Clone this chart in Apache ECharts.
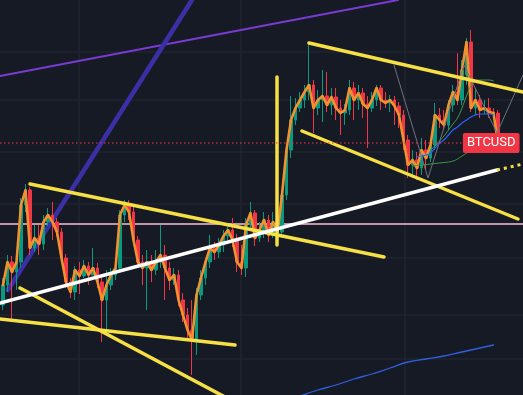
<!DOCTYPE html>
<html><head><meta charset="utf-8">
<script src="https://cdn.jsdelivr.net/npm/echarts@6/dist/echarts.min.js"></script>
<style>html,body{margin:0;padding:0;background:#161a25;}#c{width:523px;height:395px;}</style>
</head><body><div id="c"></div>
<script>
// ---- candle data (bar index = position in arrays) ----
const open = [20950,21150,21380,21280,21380,21950,22100,21520,21620,21560,
21780,21850,21780,21680,21420,21180,21080,21300,21240,21340,
21250,21320,21180,21000,21150,21250,21320,21850,21950,21880,
21600,21380,21320,21380,21300,21380,21450,21320,21200,21250,
21000,20850,20700,20600,21050,21220,21380,21520,21480,21550,
21640,21700,21600,21380,21320,21750,21870,21620,21700,21800,
21650,21780,21680,22050,22500,22800,22920,23000,23080,23150,
22920,23000,23040,22950,23030,22920,22870,22900,23120,23000,
23070,22960,22920,23000,23120,23000,22970,23000,22940,22850,
22600,22350,22400,22320,22500,22420,22550,22850,22800,22750,
22950,23080,23000,23250,23580,22920,23000,22900,22920,22880,
22870];
const close = [21150,21380,21280,21380,21950,22100,21520,21620,21560,21780,
21850,21780,21680,21420,21180,21080,21300,21240,21340,21250,
21320,21180,21000,21150,21250,21320,21850,21950,21880,21600,
21380,21320,21380,21300,21380,21450,21320,21200,21250,21000,
20850,20700,20600,21050,21220,21380,21520,21480,21550,21640,
21700,21600,21380,21320,21750,21870,21620,21700,21800,21650,
21780,21680,22050,22500,22800,22920,23000,23080,23150,22920,
23000,23040,22950,23030,22920,22870,22900,23120,23000,23070,
22960,22920,23000,23120,23000,22970,23000,22940,22850,22600,
22350,22400,22320,22500,22420,22550,22850,22800,22750,22950,
23080,23000,23300,23580,22920,23000,22900,22920,22880,22870,
22570];
const low = [20900,21080,20800,21100,21320,21880,21450,21480,21450,21500,
21740,21600,21640,21380,21120,21020,21000,21060,21220,21150,
21250,21120,20580,20700,21100,21200,21280,21780,21800,21550,
21320,21150,20900,21180,21250,21320,21000,21100,21150,20940,
20780,20620,20250,20450,21000,21150,21320,21400,21420,21480,
21600,21530,21280,21250,21230,21700,21540,21580,21620,21580,
21620,21600,21620,22000,22420,22750,22880,22920,23000,22670,
22850,22780,22880,22850,22800,22650,22750,22850,22800,22900,
22820,22520,22880,22940,22900,22920,22880,22750,22720,22500,
22220,22220,22200,22250,22300,22380,22500,22720,22700,22700,
22880,22950,22950,23150,22880,22850,22820,22860,22820,22840,
22550];
const high = [21220,21450,21440,21460,22020,22160,22130,21750,21750,21850,
21920,21980,21820,21720,21460,21220,21340,21380,21400,21380,
21520,21370,21240,21300,21320,21380,21900,22000,22000,21940,
21640,21450,21500,21450,21500,21750,21550,21380,21320,21300,
21070,20920,21000,21120,21300,21420,21650,21580,21620,21700,
21750,21820,21660,21550,21820,21980,21900,21780,21880,21850,
21880,21850,22100,22550,23040,23020,23080,23150,23570,23200,
23100,23300,23280,23120,23120,23000,22960,23200,23180,23150,
23120,23040,23080,23150,23150,23080,23050,23040,22980,22900,
22650,22500,22480,22620,22600,22600,22970,22920,22900,23000,
23150,23470,23400,23620,23700,23120,23050,23000,23020,22920,
22900];
const lastPrice = 22570;
const symbolName = 'BTCUSD';

// ---- moving averages: [bar indices], [values] ----
const blueMaBars = [92,93,94,95,96,97,98,99,100,101,102,103,104,105,106,107,108,109];
const blueMaVals = [22430,22440,22450,22470,22520,22570,22600,22650,22700,22730,22770,22800,22830,22850,22860,22860,22860,22850];
const greenSlowBars = [91,93,95,97,99,100,101,102,103,104,105];
const greenSlowVals = [22340,22350,22360,22370,22380,22390,22410,22440,22470,22510,22570];
const greenFastBars = [95,96,97,98,99,100,101,102,103,104,105,106,107,108,109];
const greenFastVals = [22500,22540,22590,22640,22700,22760,22820,22920,23040,23140,23190,23200,23200,23200,23190];
const longMaBars = [66,70,74,78,82,86,90,94,98,102,106,109];
const longMaVals = [20040,20100,20150,20210,20260,20320,20380,20410,20440,20480,20520,20550];

// ---- drawings: [bar, price] endpoints ----
const purpleLine = [[-0.667,23240],[87.78,24000]];
const indigoLine = [[1.11,21100],[41.99,24000]];
const whiteLine = [[-0.667,20970],[109.78,22300]];
const whiteExt = [[109.78,22300],[115.56,22360]];
const yellowA = [[6,22160],[84.67,21430]];
const yellowB = [[-0.667,20810],[51.56,20550]];
const yellowC = [[3.78,21120],[52.67,19950]];
const yellowD = [[68,23570],[115.56,23080]];
const yellowE = [[66.44,22690],[114.44,21810]];
const yellowV = [[60.89,23230],[60.89,21550]];
const grayPath = [[86.89,23350],[94.44,22220],[102.44,23350],[109.78,22670],[115.56,23250]];
const pinkLevel = 21760;

// ---- grid lines ----
const gridY = [23480,23000,22480,21960,21420,20850,20410];
const gridX = [16.889,52.889,89.333];

const X_MIN = -0.6667, X_MAX = 115.5556, Y_MIN = 20050, Y_MAX = 24000;
const LABEL_BAR = 102.2;

const candles = open.map((o,i)=>[i,o,close[i],low[i],high[i]]);
const closeLine = close.map((c,i)=>[i,c]);
const pairs = (b,v)=>b.map((x,i)=>[x,v[i]]);

function seg(data,color,width,z,extra){
  return Object.assign({type:'line',data:data,symbol:'none',silent:true,z:z,
    lineStyle:{color:color,width:width,cap:'round',join:'round'}},extra||{});
}
const series = [];
gridY.forEach(v=>series.push(seg([[X_MIN,v],[X_MAX,v]],'#252935',1,0,{lineStyle:{color:'#252935',width:1}})));
gridX.forEach(v=>series.push(seg([[v,Y_MIN],[v,Y_MAX]],'#252935',1,0,{lineStyle:{color:'#252935',width:1}})));
series.push(seg([[X_MIN,pinkLevel],[X_MAX,pinkLevel]],'#f7bfd6',1.5,1));
series.push(seg(purpleLine,'#7a3bd4',2,1));
series.push(seg(indigoLine,'#3a2fa4',4.6,1));
series.push(seg(pairs(longMaBars,longMaVals),'#2f5fdc',1.3,1,{smooth:true}));
series.push({
  type:'candlestick', data:candles, encode:{x:0,y:[1,2,3,4]}, barWidth:3, z:3, silent:true,
  itemStyle:{color:'#089981',color0:'#f23645',borderColor:'#089981',borderColor0:'#f23645',borderWidth:1}
});
series.push(seg(closeLine,'#f2922e',2.6,4));
series.push(seg(pairs(greenSlowBars,greenSlowVals),'#3f9a48',1,5,{smooth:true}));
series.push(seg(pairs(greenFastBars,greenFastVals),'#3f9a48',1,5,{smooth:true}));
series.push(seg(pairs(blueMaBars,blueMaVals),'#2962ff',1.2,5,{smooth:true}));
series.push(seg(grayPath,'#6e727d',1,5));
[yellowA,yellowB,yellowC,yellowD,yellowE,yellowV].forEach(d=>series.push(seg(d,'#f6e045',3.5,6)));
series.push(seg(whiteLine,'#ffffff',3.5,6));
series.push(seg(whiteExt,'#f6e045',3,6,{lineStyle:{color:'#f6e045',width:3,type:[3,4]}}));
// last price line with symbol label
series.push({
  type:'line', data:[[X_MIN,lastPrice],[LABEL_BAR,lastPrice]], symbol:'none', silent:true, z:8,
  lineStyle:{color:'#f23645',width:1,type:[1.5,2.5]},
  endLabel:{show:true,formatter:symbolName,color:'#ffffff',backgroundColor:'#f23645',
    padding:[4,4,3,4],borderRadius:2,fontFamily:'Roboto',fontSize:13,distance:0,offset:[0,0]}
});

const chart = echarts.init(document.getElementById('c'),null,{renderer:'canvas'});
chart.setOption({
  backgroundColor:'#161a25', animation:false,
  grid:{left:0,right:0,top:0,bottom:0},
  xAxis:{type:'value',min:X_MIN,max:X_MAX,show:false},
  yAxis:{type:'value',min:Y_MIN,max:Y_MAX,show:false},
  series:series
});
</script></body></html>
